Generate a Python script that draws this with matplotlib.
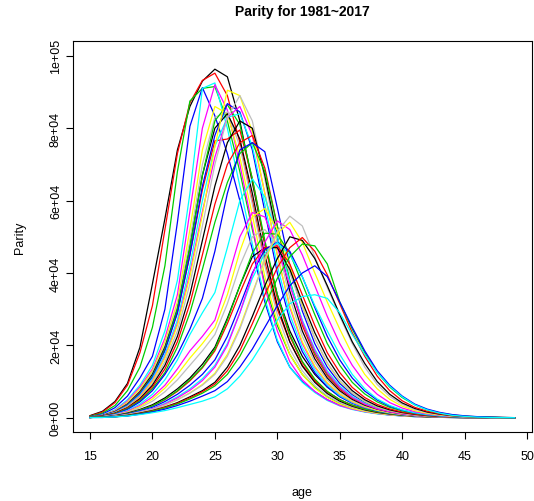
import numpy as np
import matplotlib
matplotlib.use("Agg")
import matplotlib.pyplot as plt

ages = list(range(15, 50))
years = list(range(1981, 2018))

# births by age of mother (thousands), ages 15..49
p1981 = [0.6, 1.8, 4.5, 9.5, 19.5, 37.0, 55.0, 74.0, 86.0, 93.0, 96.3, 94.2, 82.0, 65.0, 48.0, 34.0, 24.0, 17.0, 12.0, 8.5, 6.0, 4.2, 3.0, 2.1, 1.5, 1.0, 0.7, 0.45, 0.3, 0.2, 0.12, 0.08, 0.05, 0.03, 0.02]
p1982 = [0.5, 1.6, 4.2, 9.0, 18.0, 31.0, 52.0, 73.0, 87.0, 93.2, 95.2, 89.0, 76.0, 60.0, 43.0, 30.0, 21.0, 14.5, 10.2, 7.1, 5.0, 3.5, 2.5, 1.7, 1.2, 0.8, 0.55, 0.35, 0.22, 0.14, 0.09, 0.06, 0.04, 0.02, 0.01]
p1983 = [0.4, 1.3, 3.4, 7.5, 14.0, 25.0, 42.0, 68.0, 87.5, 91.0, 91.5, 82.0, 68.0, 52.0, 37.0, 25.5, 17.5, 12.0, 8.4, 5.8, 4.0, 2.8, 2.0, 1.4, 1.0, 0.7, 0.45, 0.3, 0.2, 0.12, 0.08, 0.05, 0.03, 0.02, 0.01]
p1984 = [0.3, 1.0, 2.8, 6.0, 11.0, 17.0, 30.0, 54.0, 80.5, 91.2, 83.4, 73.0, 60.0, 46.5, 32.0, 21.0, 14.0, 10.0, 7.2, 5.0, 3.5, 2.5, 1.7, 1.2, 0.8, 0.55, 0.35, 0.22, 0.14, 0.09, 0.06, 0.04, 0.02, 0.01, 0.01]
p1985 = [0.2, 0.8, 2.2, 5.0, 9.0, 14.5, 24.0, 38.0, 62.0, 91.0, 92.5, 80.0, 64.0, 48.0, 33.0, 21.5, 14.0, 9.8, 7.0, 4.8, 3.3, 2.3, 1.6, 1.1, 0.75, 0.5, 0.32, 0.2, 0.13, 0.08, 0.05, 0.03, 0.02, 0.01, 0.01]
p1986 = [0.2, 0.7, 2.0, 4.6, 8.5, 13.5, 22.0, 34.0, 57.0, 80.0, 92.0, 85.0, 70.0, 53.0, 36.0, 24.0, 15.5, 10.5, 7.3, 5.0, 3.4, 2.4, 1.7, 1.2, 0.8, 0.55, 0.35, 0.22, 0.14, 0.09, 0.06, 0.04, 0.02, 0.01, 0.01]
p1987 = [0.2, 0.7, 1.9, 4.3, 8.0, 13.0, 21.0, 32.0, 52.0, 74.0, 86.0, 84.0, 72.0, 56.0, 39.0, 26.5, 17.5, 12.0, 8.2, 5.6, 3.8, 2.6, 1.8, 1.25, 0.85, 0.58, 0.38, 0.24, 0.15, 0.1, 0.06, 0.04, 0.02, 0.01, 0.01]
p1988 = [0.2, 0.6, 1.8, 4.0, 7.5, 12.5, 20.0, 31.0, 49.0, 70.0, 83.0, 84.5, 75.0, 59.0, 42.0, 28.5, 19.0, 13.0, 8.9, 6.1, 4.2, 2.9, 2.0, 1.4, 0.95, 0.65, 0.42, 0.27, 0.17, 0.11, 0.07, 0.04, 0.03, 0.02, 0.01]
p1989 = [0.2, 0.6, 1.7, 3.8, 7.2, 12.0, 19.5, 30.0, 47.0, 67.0, 80.0, 84.0, 77.0, 62.0, 45.0, 31.0, 21.0, 14.3, 9.8, 6.7, 4.6, 3.2, 2.2, 1.5, 1.05, 0.72, 0.47, 0.3, 0.19, 0.12, 0.08, 0.05, 0.03, 0.02, 0.01]
p1990 = [0.2, 0.6, 1.7, 3.7, 7.0, 11.5, 19.0, 29.0, 45.0, 63.0, 76.5, 77.0, 79.5, 66.0, 48.0, 33.0, 22.5, 15.3, 10.5, 7.2, 5.0, 3.4, 2.4, 1.65, 1.15, 0.78, 0.5, 0.32, 0.2, 0.13, 0.08, 0.05, 0.03, 0.02, 0.01]
p1991 = [0.2, 0.6, 1.6, 3.6, 6.8, 11.5, 19.0, 30.0, 47.0, 67.0, 82.0, 86.5, 81.0, 66.0, 49.0, 34.0, 23.0, 15.6, 10.7, 7.3, 5.0, 3.5, 2.4, 1.7, 1.15, 0.78, 0.5, 0.32, 0.2, 0.13, 0.08, 0.05, 0.03, 0.02, 0.01]
p1992 = [0.2, 0.6, 1.6, 3.5, 6.6, 11.2, 18.5, 29.0, 45.0, 64.0, 78.0, 86.8, 84.5, 74.0, 57.0, 40.0, 27.0, 18.3, 12.5, 8.5, 5.8, 4.0, 2.8, 1.9, 1.3, 0.88, 0.57, 0.36, 0.23, 0.15, 0.09, 0.06, 0.04, 0.02, 0.01]
p1993 = [0.2, 0.5, 1.5, 3.3, 6.3, 10.8, 17.5, 27.0, 42.0, 60.0, 75.0, 83.0, 84.0, 75.0, 59.0, 42.0, 28.5, 19.3, 13.2, 9.0, 6.1, 4.2, 2.9, 2.0, 1.35, 0.9, 0.6, 0.38, 0.24, 0.15, 0.1, 0.06, 0.04, 0.02, 0.01]
p1994 = [0.2, 0.5, 1.4, 3.1, 6.0, 10.3, 16.8, 26.0, 40.0, 57.0, 72.0, 83.0, 86.0, 78.0, 62.0, 45.0, 30.5, 20.5, 14.0, 9.5, 6.5, 4.4, 3.0, 2.1, 1.4, 0.95, 0.62, 0.4, 0.25, 0.16, 0.1, 0.06, 0.04, 0.02, 0.01]
p1995 = [0.2, 0.5, 1.4, 3.0, 5.8, 10.0, 16.5, 25.5, 39.0, 56.0, 75.0, 90.5, 89.0, 79.0, 62.0, 45.0, 31.0, 21.0, 14.3, 9.7, 6.6, 4.5, 3.1, 2.1, 1.45, 0.98, 0.64, 0.41, 0.26, 0.16, 0.1, 0.06, 0.04, 0.02, 0.01]
p1996 = [0.2, 0.5, 1.3, 2.9, 5.5, 9.5, 15.5, 24.0, 37.0, 53.0, 70.0, 83.0, 89.0, 82.0, 66.0, 48.0, 33.0, 22.5, 15.3, 10.4, 7.1, 4.8, 3.3, 2.3, 1.55, 1.05, 0.68, 0.44, 0.28, 0.18, 0.11, 0.07, 0.04, 0.02, 0.01]
p1997 = [0.2, 0.5, 1.3, 2.8, 5.3, 9.0, 14.5, 22.5, 34.0, 49.0, 64.0, 76.0, 82.0, 80.0, 67.0, 50.0, 35.0, 24.0, 16.3, 11.0, 7.5, 5.1, 3.5, 2.4, 1.65, 1.1, 0.72, 0.46, 0.29, 0.18, 0.11, 0.07, 0.04, 0.02, 0.01]
p1998 = [0.2, 0.5, 1.2, 2.7, 5.0, 8.5, 13.5, 21.0, 31.5, 45.0, 59.0, 70.0, 76.0, 78.0, 69.0, 53.0, 37.5, 25.5, 17.3, 11.7, 7.9, 5.4, 3.7, 2.5, 1.7, 1.15, 0.75, 0.48, 0.3, 0.19, 0.12, 0.07, 0.04, 0.02, 0.01]
p1999 = [0.1, 0.4, 1.1, 2.5, 4.7, 8.0, 12.5, 19.5, 29.0, 41.0, 54.0, 65.0, 73.0, 76.0, 68.0, 53.0, 38.0, 26.5, 18.0, 12.2, 8.3, 5.6, 3.8, 2.6, 1.75, 1.2, 0.78, 0.5, 0.31, 0.19, 0.12, 0.07, 0.04, 0.02, 0.01]
p2000 = [0.1, 0.4, 1.0, 2.3, 4.4, 7.5, 12.0, 17.5, 24.5, 33.0, 46.0, 62.0, 74.0, 76.0, 73.5, 58.0, 42.0, 29.5, 20.5, 14.0, 9.5, 6.4, 4.3, 2.9, 1.95, 1.3, 0.85, 0.54, 0.34, 0.21, 0.13, 0.08, 0.05, 0.03, 0.01]
p2001 = [0.1, 0.3, 0.9, 2.0, 3.8, 6.5, 10.5, 16.0, 23.0, 29.0, 34.6, 47.0, 60.0, 66.0, 61.0, 50.0, 37.5, 27.0, 19.0, 13.0, 8.8, 5.9, 4.0, 2.7, 1.8, 1.2, 0.78, 0.5, 0.31, 0.19, 0.12, 0.07, 0.04, 0.02, 0.01]
p2002 = [0.1, 0.3, 0.8, 1.8, 3.4, 5.8, 9.0, 13.5, 18.5, 22.5, 27.0, 38.0, 50.0, 56.7, 55.5, 47.0, 36.5, 26.5, 18.5, 12.5, 8.4, 5.6, 3.8, 2.5, 1.7, 1.1, 0.72, 0.46, 0.29, 0.18, 0.11, 0.07, 0.04, 0.02, 0.01]
p2003 = [0.1, 0.3, 0.7, 1.6, 3.1, 5.2, 8.2, 12.0, 16.5, 20.5, 25.0, 34.0, 46.0, 55.5, 57.8, 52.0, 42.0, 31.0, 22.0, 15.0, 10.1, 6.8, 4.5, 3.0, 2.0, 1.3, 0.85, 0.54, 0.34, 0.21, 0.13, 0.08, 0.05, 0.03, 0.01]
p2004 = [0.1, 0.3, 0.7, 1.5, 2.8, 4.6, 7.2, 10.5, 14.5, 18.5, 23.0, 31.5, 42.0, 50.0, 52.0, 48.0, 40.0, 30.5, 22.0, 15.2, 10.3, 6.9, 4.6, 3.1, 2.05, 1.35, 0.88, 0.56, 0.35, 0.22, 0.14, 0.08, 0.05, 0.03, 0.01]
p2005 = [0.1, 0.2, 0.6, 1.3, 2.3, 3.6, 5.5, 8.0, 11.0, 14.8, 19.5, 27.5, 36.5, 44.5, 47.0, 47.0, 41.0, 32.0, 23.5, 16.5, 11.2, 7.5, 5.0, 3.3, 2.2, 1.45, 0.95, 0.6, 0.38, 0.24, 0.15, 0.09, 0.05, 0.03, 0.01]
p2006 = [0.1, 0.2, 0.5, 1.1, 2.1, 3.3, 5.0, 7.3, 10.2, 13.8, 18.5, 26.0, 34.5, 42.5, 47.0, 47.5, 42.5, 34.0, 25.5, 18.0, 12.5, 8.4, 5.6, 3.7, 2.45, 1.6, 1.05, 0.66, 0.42, 0.26, 0.16, 0.1, 0.06, 0.03, 0.01]
p2007 = [0.1, 0.2, 0.5, 1.1, 2.1, 3.3, 5.1, 7.5, 10.5, 14.0, 19.0, 27.0, 36.5, 45.5, 51.0, 50.7, 45.5, 37.0, 28.5, 20.5, 14.5, 9.8, 6.6, 4.4, 2.9, 1.9, 1.25, 0.8, 0.5, 0.31, 0.19, 0.12, 0.07, 0.04, 0.02]
p2008 = [0.1, 0.2, 0.5, 1.0, 1.9, 2.9, 4.5, 6.5, 9.0, 12.0, 16.0, 22.5, 31.0, 40.0, 46.5, 48.5, 46.0, 39.0, 30.5, 22.5, 16.0, 11.0, 7.4, 4.9, 3.2, 2.1, 1.35, 0.86, 0.54, 0.34, 0.21, 0.13, 0.08, 0.04, 0.02]
p2009 = [0.1, 0.2, 0.4, 0.9, 1.7, 2.6, 4.0, 5.8, 8.0, 10.8, 14.5, 20.5, 29.0, 38.5, 45.5, 48.4, 45.0, 39.0, 31.0, 24.0, 17.5, 12.0, 8.0, 5.2, 3.4, 2.2, 1.4, 0.9, 0.56, 0.35, 0.22, 0.13, 0.08, 0.04, 0.02]
p2010 = [0.1, 0.2, 0.4, 0.9, 1.6, 2.5, 3.8, 5.5, 7.6, 10.3, 14.0, 20.0, 29.0, 39.5, 48.5, 54.4, 52.0, 45.0, 36.5, 28.0, 20.5, 14.5, 9.8, 6.5, 4.2, 2.7, 1.7, 1.1, 0.68, 0.42, 0.26, 0.16, 0.09, 0.05, 0.02]
p2011 = [0.1, 0.2, 0.4, 0.8, 1.5, 2.3, 3.5, 5.0, 6.9, 9.2, 12.3, 17.5, 25.0, 34.5, 43.5, 51.0, 54.0, 48.5, 40.0, 32.0, 24.5, 17.5, 12.0, 8.0, 5.1, 3.2, 2.0, 1.25, 0.78, 0.48, 0.29, 0.18, 0.1, 0.05, 0.02]
p2012 = [0.1, 0.2, 0.4, 0.8, 1.5, 2.3, 3.5, 5.0, 6.8, 9.0, 12.0, 17.0, 24.5, 34.0, 44.0, 51.5, 55.7, 53.0, 44.5, 36.0, 28.0, 20.5, 14.0, 9.2, 5.9, 3.7, 2.3, 1.45, 0.9, 0.55, 0.33, 0.2, 0.12, 0.06, 0.03]
p2013 = [0.1, 0.2, 0.3, 0.7, 1.3, 2.0, 3.0, 4.2, 5.8, 7.5, 9.8, 14.0, 20.0, 28.0, 36.5, 44.0, 50.0, 49.0, 44.0, 36.5, 28.5, 21.0, 15.0, 10.0, 6.5, 4.1, 2.6, 1.6, 1.0, 0.6, 0.36, 0.22, 0.13, 0.07, 0.03]
p2014 = [0.1, 0.2, 0.3, 0.6, 1.2, 1.9, 2.9, 4.0, 5.5, 7.2, 9.3, 13.0, 18.5, 26.0, 34.0, 41.5, 47.0, 49.8, 46.0, 39.5, 31.5, 23.5, 17.0, 11.5, 7.5, 4.7, 2.9, 1.8, 1.1, 0.66, 0.4, 0.24, 0.14, 0.08, 0.04]
p2015 = [0.1, 0.2, 0.3, 0.6, 1.1, 1.8, 2.7, 3.8, 5.2, 6.8, 8.8, 12.0, 17.0, 23.5, 31.0, 38.5, 44.5, 48.0, 47.5, 42.5, 32.0, 24.5, 18.0, 12.5, 8.5, 5.6, 3.6, 2.2, 1.35, 0.8, 0.48, 0.29, 0.17, 0.1, 0.05]
p2016 = [0.1, 0.1, 0.3, 0.5, 1.0, 1.6, 2.4, 3.4, 4.6, 6.0, 7.5, 10.0, 14.0, 19.0, 25.0, 31.0, 36.5, 40.0, 42.0, 39.0, 32.0, 25.0, 18.5, 13.0, 9.0, 6.0, 3.8, 2.4, 1.5, 0.9, 0.55, 0.33, 0.2, 0.11, 0.05]
p2017 = [0.05, 0.1, 0.25, 0.5, 0.9, 1.4, 2.0, 2.8, 3.7, 4.6, 5.8, 8.0, 11.5, 16.0, 21.5, 27.0, 31.5, 33.5, 34.0, 33.0, 29.0, 23.0, 17.5, 12.5, 8.7, 5.8, 3.6, 2.2, 1.3, 0.7, 0.4, 0.2, 0.1, 0.05, 0.03]

parity = [p1981, p1982, p1983, p1984, p1985, p1986, p1987, p1988, p1989, p1990,
          p1991, p1992, p1993, p1994, p1995, p1996, p1997, p1998, p1999, p2000,
          p2001, p2002, p2003, p2004, p2005, p2006, p2007, p2008, p2009, p2010,
          p2011, p2012, p2013, p2014, p2015, p2016, p2017]

# default R palette, recycled over the years
palette = ["#000000", "#FF0000", "#00CD00", "#0000FF",
           "#00FFFF", "#FF00FF", "#FFFF00", "#BEBEBE"]

plt.rcParams["font.family"] = ["Liberation Sans", "DejaVu Sans"]

W, H = 534, 502
fig = plt.figure(figsize=(W / 100, H / 100), dpi=100)
left, right, top, bottom = 73, 531.6, 42.3, 433.3
ax = fig.add_axes([left / W, 1 - bottom / H, (right - left) / W, (bottom - top) / H])

for i, (yr, vals) in enumerate(zip(years, parity)):
    ax.plot(ages, np.array(vals) * 1000, color=palette[i % len(palette)], lw=0.9, label=str(yr))

ax.set_xlim(13.64, 50.36)
ax.set_ylim(-4000, 104000)

ax.set_xticks([15, 20, 25, 30, 35, 40, 45, 50])
yt = [0, 20000, 40000, 60000, 80000, 100000]
ax.set_yticks(yt)
ax.set_yticklabels(["0e+00", "2e+04", "4e+04", "6e+04", "8e+04", "1e+05"],
                   rotation=90, va="center")
ax.tick_params(axis="both", direction="out", length=5, width=0.8, labelsize=9, color="black")
ax.tick_params(axis="x", pad=8)
ax.tick_params(axis="y", pad=3)
for sp in ax.spines.values():
    sp.set_linewidth(0.8)

ax.set_xlabel("age", fontsize=9, labelpad=17)
ax.set_ylabel("Parity", fontsize=9, labelpad=17)
fig.text((left + right) / 2 / W, 1 - 12 / H, "Parity for 1981~2017",
         ha="center", va="center", fontsize=10, fontweight="bold")

fig.savefig("out.png", dpi=100)
